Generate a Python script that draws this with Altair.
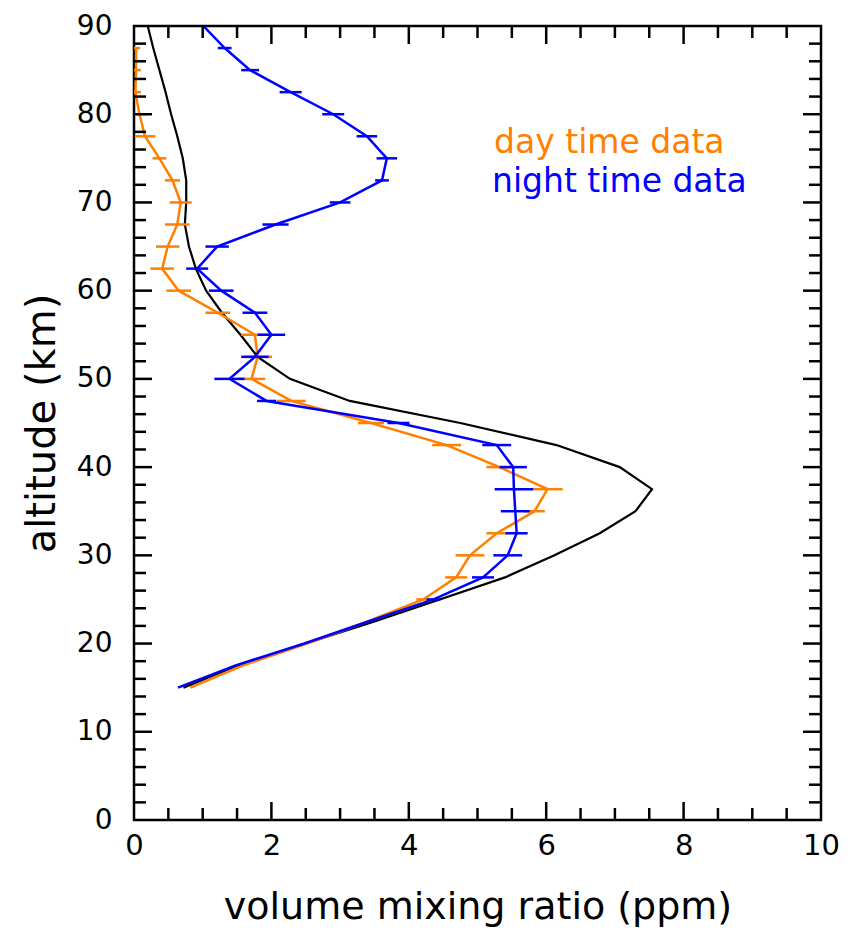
import altair as alt
import pandas as pd

# ---------------- data ----------------
night_alt = [90, 87.5, 85, 82.5, 80, 77.5, 75, 72.5, 70, 67.5, 65, 62.5, 60, 57.5, 55,
             52.5, 50, 47.5, 45, 42.5, 40, 37.5, 35, 32.5, 30, 27.5, 25, 22.5, 20, 17.5, 15]
night_vmr = [1.01, 1.32, 1.69, 2.28, 2.90, 3.39, 3.68, 3.61, 3.00, 2.06, 1.21, 0.92, 1.27, 1.76, 2.00,
             1.76, 1.39, 1.93, 3.85, 5.28, 5.52, 5.53, 5.55, 5.57, 5.44, 5.08, 4.36, 3.41, 2.48, 1.47, 0.64]
night_err = [0.0, 0.10, 0.13, 0.16, 0.16, 0.15, 0.15, 0.10, 0.15, 0.19, 0.17, 0.16, 0.18, 0.18, 0.20,
             0.20, 0.22, 0.14, 0.16, 0.21, 0.20, 0.28, 0.21, 0.16, 0.21, 0.16, 0.10, 0.0, 0.0, 0.0, 0.0]

day_alt = [87.5, 85, 82.5, 80, 77.5, 75, 72.5, 70, 67.5, 65, 62.5, 60, 57.5, 55,
           52.5, 50, 47.5, 45, 42.5, 40, 37.5, 35, 32.5, 30, 27.5, 25, 22.5, 20, 17.5, 15]
day_vmr = [0.03, 0.03, 0.02, 0.08, 0.16, 0.37, 0.56, 0.68, 0.63, 0.49, 0.41, 0.65, 1.22, 1.76,
           1.80, 1.71, 2.29, 3.45, 4.55, 5.32, 6.02, 5.83, 5.28, 4.89, 4.69, 4.21, 3.40, 2.52, 1.58, 0.82]
day_err = [0.06, 0.07, 0.08, 0.12, 0.15, 0.10, 0.11, 0.16, 0.18, 0.17, 0.17, 0.18, 0.18, 0.20,
           0.21, 0.20, 0.21, 0.19, 0.21, 0.19, 0.22, 0.15, 0.15, 0.21, 0.16, 0.10, 0.0, 0.0, 0.0, 0.0]

model_alt = [90, 87.5, 85, 82.5, 80, 77.5, 75, 72.5, 70, 67.5, 65, 62.5, 60, 57.5, 55,
             52.5, 50, 47.5, 45, 42.5, 40, 37.5, 35, 32.5, 30, 27.5, 25, 22.5, 20, 17.5, 15]
model_vmr = [0.20, 0.28, 0.37, 0.46, 0.54, 0.63, 0.71, 0.76, 0.76, 0.74, 0.80, 0.90, 1.05, 1.28, 1.55,
             1.80, 2.27, 3.14, 4.75, 6.15, 7.07, 7.54, 7.30, 6.78, 6.12, 5.40, 4.45, 3.50, 2.50, 1.50, 0.72]

x_label_values = [0, 2, 4, 6, 8, 10]
y_label_values = [0, 10, 20, 30, 40, 50, 60, 70, 80, 90]
x_minor_ticks = [0.5, 1, 1.5, 2.5, 3, 3.5, 4.5, 5, 5.5, 6.5, 7, 7.5, 8.5, 9, 9.5]
x_major_ticks = [2, 4, 6, 8]
y_minor_ticks = [2, 4, 6, 8, 12, 14, 16, 18, 22, 24, 26, 28, 32, 34, 36, 38, 42, 44, 46, 48,
                 52, 54, 56, 58, 62, 64, 66, 68, 72, 74, 76, 78, 82, 84, 86, 88]
y_major_ticks = [10, 20, 30, 40, 50, 60, 70, 80]

legend_labels = ["day time data", "night time data"]

# ---------------- styling ----------------
FONT = "DejaVu Sans"
ORANGE = "#ff7f00"
BLUE = "#0000ff"
W, H = 687, 794
MINOR, MAJOR = 12, 18
LW = 2.5

xs = alt.Scale(domain=[0, 10], nice=False, zero=False)
ys = alt.Scale(domain=[0, 90], nice=False, zero=False)

x_axis = alt.Axis(values=x_label_values, ticks=False, tickSize=0, domain=False, grid=False,
                  labelFont=FONT, labelFontSize=29, labelColor="black", labelPadding=11,
                  labelFlush=False, title="volume mixing ratio (ppm)", titleFont=FONT,
                  titleFontSize=38, titleFontWeight="normal", titleColor="black", titlePadding=28)
y_axis = alt.Axis(values=y_label_values, ticks=False, tickSize=0, domain=False, grid=False,
                  labelFont=FONT, labelFontSize=28, labelColor="black", labelPadding=22,
                  labelFlush=False, title="altitude (km)", titleFont=FONT,
                  titleFontSize=40, titleFontWeight="normal", titleColor="black", titlePadding=14)

night = pd.DataFrame({"alt": night_alt, "vmr": night_vmr, "err": night_err})
night["lo"] = night["vmr"] - night["err"]
night["hi"] = night["vmr"] + night["err"]
day = pd.DataFrame({"alt": day_alt, "vmr": day_vmr, "err": day_err})
day["lo"] = day["vmr"] - day["err"]
day["hi"] = day["vmr"] + day["err"]
model = pd.DataFrame({"alt": model_alt, "vmr": model_vmr})


def X(field):
    return alt.X(field, scale=xs, axis=x_axis, title="volume mixing ratio (ppm)")


def Y(field):
    return alt.Y(field, scale=ys, axis=y_axis, title="altitude (km)")


model_line = alt.Chart(model).mark_line(color="black", strokeWidth=2.2, clip=True).encode(
    x=X("vmr:Q"), y=Y("alt:Q"), order="alt:Q")


def series(df, color):
    line = alt.Chart(df).mark_line(color=color, strokeWidth=LW, clip=True).encode(
        x=X("vmr:Q"), y=Y("alt:Q"), order="alt:Q")
    bars = alt.Chart(df[df["err"] > 0]).mark_rule(color=color, strokeWidth=LW, clip=True).encode(
        x=X("lo:Q"), x2="hi:Q", y=Y("alt:Q"))
    return bars + line


def xticks(vals, length):
    d = pd.DataFrame({"v": vals})
    bottom = alt.Chart(d).mark_rule(color="black", strokeWidth=2.5).encode(
        x=X("v:Q"), y=alt.value(H), y2=alt.value(H - length))
    top = alt.Chart(d).mark_rule(color="black", strokeWidth=2.5).encode(
        x=X("v:Q"), y=alt.value(0), y2=alt.value(length))
    return bottom + top


def yticks(vals, length):
    d = pd.DataFrame({"v": vals})
    left = alt.Chart(d).mark_rule(color="black", strokeWidth=2.5).encode(
        y=Y("v:Q"), x=alt.value(0), x2=alt.value(length))
    right = alt.Chart(d).mark_rule(color="black", strokeWidth=2.5).encode(
        y=Y("v:Q"), x=alt.value(W), x2=alt.value(W - length))
    return left + right


leg_df = pd.DataFrame({"label": legend_labels})
leg_day = alt.Chart(leg_df[leg_df["label"] == legend_labels[0]]).mark_text(
    align="left", baseline="alphabetic", font=FONT, fontSize=33, color=ORANGE).encode(
    text="label:N", x=alt.value(360), y=alt.value(127))
leg_night = alt.Chart(leg_df[leg_df["label"] == legend_labels[1]]).mark_text(
    align="left", baseline="alphabetic", font=FONT, fontSize=33, color=BLUE).encode(
    text="label:N", x=alt.value(358), y=alt.value(166))

chart = alt.layer(
    model_line,
    series(day, ORANGE),
    series(night, BLUE),
    xticks(x_minor_ticks, MINOR),
    xticks(x_major_ticks, MAJOR),
    yticks(y_minor_ticks, MINOR),
    yticks(y_major_ticks, MAJOR),
    leg_day,
    leg_night,
).properties(
    width=W,
    height=H,
    autosize=alt.AutoSizeParams(type="none"),
    padding={"left": 134, "top": 26, "right": 35, "bottom": 114},
    background="white",
).configure_view(
    stroke="black", strokeWidth=2.5
)

chart.save("out.html", embed_options={"renderer": "svg", "actions": False})
